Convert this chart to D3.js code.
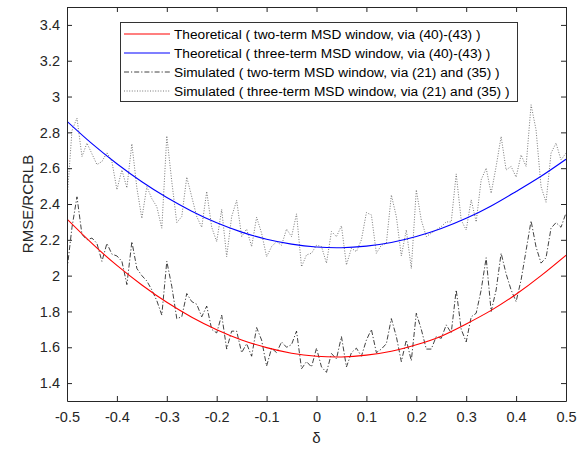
<!DOCTYPE html>
<html>
<head>
<meta charset="utf-8">
<script src="https://cdn.jsdelivr.net/npm/d3@7"></script>
<style>
    body{ margin:0; background:#fff; }
    #chart{ width:586px; height:451px; }
</style>
</head>
<body>
<div id="chart" width="586" height="451"></div>
<script>
// x of the simulated runs: start and step
const sim_start = -0.5;
const sim_step = 0.01;
// x of the theoretical curves: start and step
const theory_start = -0.5;
const theory_step = 0.05;

// theoretical curves (every 0.05)
const theory_two = [2.316, 2.180, 2.057, 1.948, 1.851, 1.768, 1.698, 1.641, 1.598, 1.567, 1.550,
    1.546, 1.556, 1.578, 1.614, 1.662, 1.730, 1.806, 1.896, 2.000, 2.114];
const theory_three = [2.862, 2.737, 2.625, 2.524, 2.436, 2.360, 2.295, 2.243, 2.203, 2.176, 2.160,
    2.156, 2.165, 2.185, 2.218, 2.263, 2.320, 2.389, 2.470, 2.555, 2.650];

// simulated runs (every 0.01)
const sim_two = [
    2.03, 2.27, 2.44, 2.23, 2.20, 2.21, 2.18, 2.08, 2.18, 2.12,
    2.11, 2.08, 1.95, 2.19, 2.04, 2.00, 1.97, 1.92, 1.86, 1.78,
    2.08, 1.94, 1.76, 1.77, 1.90, 1.855, 1.84, 1.77, 1.83, 1.70,
    1.68, 1.78, 1.59, 1.69, 1.69, 1.57, 1.62, 1.55, 1.71, 1.64,
    1.495, 1.595, 1.57, 1.63, 1.60, 1.615, 1.69, 1.48, 1.52, 1.49,
    1.595, 1.49, 1.46, 1.565, 1.535, 1.66, 1.49, 1.57, 1.595, 1.55,
    1.64, 1.70, 1.57, 1.59, 1.62, 1.76, 1.66, 1.52, 1.64, 1.525,
    1.79, 1.70, 1.59, 1.59, 1.66, 1.65, 1.725, 1.68, 1.92, 1.70,
    1.63, 1.77, 1.79, 1.92, 2.10, 1.80, 1.92, 2.125, 2.01, 1.92,
    1.855, 1.976, 2.14, 2.306, 2.16, 2.07, 2.10, 2.265, 2.296, 2.27,
    2.35
];
const sim_three = [
    2.42, 2.81, 2.88, 2.665, 2.74, 2.68, 2.62, 2.637, 2.687, 2.637,
    2.48, 2.59, 2.49, 2.736, 2.49, 2.32, 2.497, 2.43, 2.385, 2.265,
    2.78, 2.525, 2.296, 2.33, 2.55, 2.44, 2.33, 2.27, 2.47, 2.27,
    2.19, 2.37, 2.106, 2.33, 2.42, 2.218, 2.26, 2.162, 2.326, 2.237,
    2.106, 2.162, 2.19, 2.17, 2.26, 2.218, 2.345, 2.05, 2.116, 2.125,
    2.17, 2.162, 2.07, 2.246, 2.218, 2.278, 2.06, 2.153, 2.134, 2.20,
    2.352, 2.339, 2.125, 2.17, 2.18, 2.45, 2.33, 2.11, 2.255, 2.04,
    2.479, 2.31, 2.218, 2.237, 2.255, 2.274, 2.30, 2.30, 2.568, 2.31,
    2.255, 2.423, 2.30, 2.535, 2.60, 2.46, 2.61, 2.777, 2.59, 2.61,
    2.55, 2.674, 2.61, 2.954, 2.814, 2.497, 2.41, 2.684, 2.74, 2.646,
    2.684
];

// axes
const x_domain = [-0.5, 0.5];
const y_domain = [1.3, 3.5];
const x_ticks = [-0.5, -0.4, -0.3, -0.2, -0.1, 0, 0.1, 0.2, 0.3, 0.4, 0.5];
const y_ticks = [1.4, 1.6, 1.8, 2, 2.2, 2.4, 2.6, 2.8, 3, 3.2, 3.4];
const x_label = "δ";
const y_label = "RMSE/RCRLB";

// legend entries
const legend_labels = [
    "Theoretical ( two-term MSD window, via (40)-(43) )",
    "Theoretical ( three-term MSD window, via (40)-(43) )",
    "Simulated ( two-term MSD window, via (21) and (35) )",
    "Simulated ( three-term MSD window, via (21) and (35) )"
];

function draw_chart(id){
    // plot box
    const left = 67, right = 566, top = 7, bottom = 401;
    const tick_len = 5;
    const font = "'Liberation Sans', Arial, sans-serif";
    const axis_color = "#262626";

    const svg = d3.select(id).append("svg")
        .attr("width", 586)
        .attr("height", 451)
        .style("font-family", font)
    ;

    const x = d3.scaleLinear().domain(x_domain).range([left, right]);
    const y = d3.scaleLinear().domain(y_domain).range([bottom, top]);

    // plain ascii minus, like the original figure
    const tick_text = function(d){ return String(d); };

    // series -> point lists
    function to_points(values, start, step){
        return values.map(function(v, i){ return [start + i*step, v]; });
    }
    const series = [
        {pts: to_points(theory_two, theory_start, theory_step), color: "#ff0000", width: 1.1, dash: null, curve: d3.curveNatural},
        {pts: to_points(theory_three, theory_start, theory_step), color: "#0000ff", width: 1.1, dash: null, curve: d3.curveNatural},
        {pts: to_points(sim_two, sim_start, sim_step), color: "#111", width: 0.8, dash: "5,2,1.2,2", curve: d3.curveLinear},
        {pts: to_points(sim_three, sim_start, sim_step), color: "#555", width: 0.8, dash: "1,1.6", curve: d3.curveLinear}
    ];

    // clip to the plot box
    svg.append("clipPath")
        .attr("id", "plot_clip")
        .append("rect")
        .attr("x", left).attr("y", top)
        .attr("width", right - left).attr("height", bottom - top)
    ;

    const lines_g = svg.append("g").attr("clip-path", "url(#plot_clip)");
    // draw simulated first, theoretical on top
    [2, 3, 0, 1].forEach(function(i){
        const s = series[i];
        const line = d3.line()
            .x(function(d){ return x(d[0]); })
            .y(function(d){ return y(d[1]); })
            .curve(s.curve)
        ;
        lines_g.append("path")
            .attr("d", line(s.pts))
            .attr("fill", "none")
            .attr("stroke", s.color)
            .attr("stroke-width", s.width)
            .attr("stroke-dasharray", s.dash)
        ;
    });

    // axes (ticks pointing inwards on all four sides)
    const ax_bottom = d3.axisBottom(x).tickValues(x_ticks).tickFormat(tick_text).tickSizeInner(-tick_len).tickSizeOuter(0).tickPadding(11);
    const ax_left = d3.axisLeft(y).tickValues(y_ticks).tickFormat(tick_text).tickSizeInner(-tick_len).tickSizeOuter(0).tickPadding(7);
    const ax_top = d3.axisTop(x).tickValues(x_ticks).tickFormat("").tickSizeInner(-tick_len).tickSizeOuter(0);
    const ax_right = d3.axisRight(y).tickValues(y_ticks).tickFormat("").tickSizeInner(-tick_len).tickSizeOuter(0);

    const axes = [
        svg.append("g").attr("transform", "translate(0," + bottom + ")").call(ax_bottom),
        svg.append("g").attr("transform", "translate(" + left + ",0)").call(ax_left),
        svg.append("g").attr("transform", "translate(0," + top + ")").call(ax_top),
        svg.append("g").attr("transform", "translate(" + right + ",0)").call(ax_right)
    ];
    axes.forEach(function(g){
        g.selectAll("path, line").attr("stroke", axis_color);
        g.selectAll("text")
            .attr("fill", axis_color)
            .style("font-family", font)
            .style("font-size", "14.5px")
        ;
    });

    // axis labels
    svg.append("text")
        .text(x_label)
        .attr("x", (left + right)/2)
        .attr("y", 443)
        .attr("text-anchor", "middle")
        .attr("fill", axis_color)
        .style("font-size", "15px")
    ;
    svg.append("text")
        .text(y_label)
        .attr("transform", "translate(33," + (top + bottom)/2 + ") rotate(-90)")
        .attr("text-anchor", "middle")
        .attr("fill", axis_color)
        .style("font-size", "15px")
    ;

    // legend
    const lg = svg.append("g");
    lg.append("rect")
        .attr("x", 120.5).attr("y", 22.5)
        .attr("width", 397).attr("height", 79)
        .attr("fill", "#fff")
        .attr("stroke", "#333")
        .attr("stroke-width", 1)
    ;
    const row_y = function(i){ return 34 + i*19; };
    lg.selectAll("line.sample")
        .data(series)
        .enter()
        .append("line")
        .attr("class", "sample")
        .attr("x1", 124).attr("x2", 170)
        .attr("y1", function(d, i){ return row_y(i); })
        .attr("y2", function(d, i){ return row_y(i); })
        .attr("stroke", function(d){ return d.color; })
        .attr("stroke-width", function(d){ return d.width; })
        .attr("stroke-dasharray", function(d){ return d.dash; })
    ;
    lg.selectAll("text.label")
        .data(legend_labels)
        .enter()
        .append("text")
        .attr("class", "label")
        .text(function(d){ return d; })
        .attr("x", 174)
        .attr("y", function(d, i){ return row_y(i); })
        .attr("dy", "0.35em")
        .attr("fill", "#000")
        .style("font-size", "13.7px")
    ;
}

draw_chart("#chart");
</script>
</body>
</html>
